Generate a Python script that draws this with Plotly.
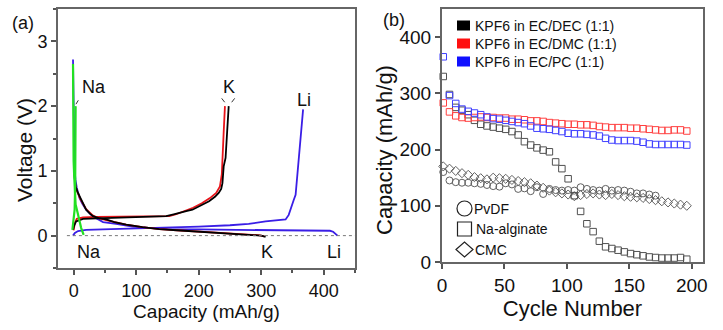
import plotly.graph_objects as go

# ---------------- Panel (a): voltage profiles ----------------
k_dec_dis_cap = [1, 2, 3.2, 6, 9.5, 14, 20, 26, 31, 40, 52, 65, 84, 110, 137, 165, 190, 215, 243, 265, 286, 300, 307]
k_dec_dis_v = [0.95, 0.85, 0.76, 0.68, 0.61, 0.5, 0.40, 0.34, 0.30, 0.27, 0.25, 0.21, 0.17, 0.13, 0.10, 0.083, 0.067, 0.055, 0.04, 0.03, 0.015, 0.0, -0.02]
k_dec_chg_cap = [-1, 1, 4, 15, 50, 94, 130, 148, 160, 170, 180, 190, 203, 216.6, 226, 232, 236, 238, 240, 243, 245.5, 248]
k_dec_chg_v = [0.09, 0.16, 0.22, 0.26, 0.27, 0.28, 0.285, 0.30, 0.33, 0.36, 0.38, 0.40, 0.46, 0.53, 0.60, 0.66, 0.72, 0.81, 1.07, 1.2, 1.6, 2.0]

k_dmc_dis_cap = [2, 5, 10, 20, 31, 40, 52, 65, 84, 110, 137, 165, 190, 215, 243, 265, 286, 298, 305]
k_dmc_dis_v = [0.8, 0.7, 0.58, 0.41, 0.31, 0.27, 0.24, 0.21, 0.17, 0.13, 0.10, 0.083, 0.067, 0.055, 0.04, 0.03, 0.015, 0.005, -0.01]
k_dmc_chg_cap = [0, 2, 5, 15, 36, 80, 120, 145, 153, 164, 178, 191, 205, 218, 228, 234, 237, 238.5, 240, 242]
k_dmc_chg_v = [0.08, 0.2, 0.26, 0.28, 0.29, 0.29, 0.29, 0.29, 0.30, 0.33, 0.38, 0.43, 0.50, 0.58, 0.66, 0.76, 0.95, 1.2, 1.6, 2.0]

li_dis_cap = [-1, -0.5, 0, 0.5, 1.6, 3, 5, 9.5, 14, 20, 28, 36, 47, 68, 94, 120, 150, 200, 250, 300, 350, 400, 410, 415, 419, 422]
li_dis_v = [2.72, 2.2, 1.8, 1.3, 1.0, 0.86, 0.74, 0.58, 0.49, 0.40, 0.32, 0.27, 0.21, 0.18, 0.14, 0.12, 0.10, 0.095, 0.09, 0.088, 0.085, 0.08, 0.075, 0.06, 0.03, 0.0]
li_chg_cap = [-1, 2, 7, 20, 60, 100, 148, 200, 250, 280, 307, 325, 339, 344, 349, 352, 355, 357, 359, 360, 363, 367]
li_chg_v = [0.0, 0.04, 0.07, 0.09, 0.10, 0.11, 0.12, 0.14, 0.16, 0.18, 0.22, 0.24, 0.25, 0.32, 0.48, 0.55, 0.63, 0.84, 1.0, 1.1, 1.5, 1.95]

na_dis_cap = [-1, -0.8, -0.5, 0, 1, 2, 3.2, 6, 9, 12, 16]
na_dis_v = [2.65, 2.2, 1.6, 1.15, 0.9, 0.65, 0.48, 0.37, 0.24, 0.12, 0.01]
na_chg_cap = [-2, -1, 0, 1.6, 2.5, 3.0, 3.2]
na_chg_v = [0.09, 0.2, 0.3, 0.40, 0.8, 1.4, 2.0]

# ---------------- Panel (b): cycling ----------------
cycles = [1, 6, 11, 16, 21, 26, 31, 36, 41, 46, 51, 56, 61, 66, 71, 76, 81, 86, 91, 96,
          101, 106, 111, 116, 121, 126, 131, 136, 141, 146, 151, 156, 161, 166, 171, 176, 181, 186, 191, 196]
cap_dmc = [283, 267, 260, 257, 256, 257, 258, 257, 257, 256, 256, 254, 254, 253, 251, 251, 250, 248, 247, 246,
           245, 245, 244, 244, 243, 241, 240, 239, 239, 239, 238, 238, 237, 236, 235, 234, 234, 235, 235, 233]
cap_pc = [365, 296, 282, 272, 268, 265, 262, 258, 255, 254, 252, 250, 248, 246, 242, 238, 237, 236, 234, 232,
          229, 228, 228, 227, 226, 224, 220, 217, 216, 216, 216, 215, 213, 210, 209, 209, 209, 209, 209, 208]
cap_alginate = [330, 298, 275, 270, 262, 252, 245, 242, 240, 238, 236, 232, 226, 214, 208, 203, 199, 196, 178, 166,
                148, 118, 90, 68, 54, 37, 27, 24, 21, 18, 15, 13, 11, 9, 8, 7, 7, 7, 8, 5]
cycles_pvdf = [1, 6, 11, 16, 21, 26, 31, 36, 41, 46, 51, 56, 61, 66, 71, 76, 81, 86, 91, 96,
               101, 106, 111, 116, 121, 126, 131, 136, 141, 146, 151, 156, 161, 166, 171]
cap_pvdf = [160, 145, 142, 141, 141, 140, 139, 137, 135, 134, 140, 138, 130, 131, 126, 133, 121, 130, 128, 127,
            128, 127, 133, 130, 128, 127, 130, 127, 128, 127, 125, 122, 122, 120, 118]
cap_cmc = [170, 166, 162, 158, 155, 151, 149, 147, 150, 149, 148, 146, 144, 142, 140, 136, 132, 127, 124, 122,
           120, 117, 119, 121, 122, 120, 119, 121, 119, 117, 116, 115, 114, 112, 110, 108, 106, 104, 102, 100]

legend_top = ["KPF6 in EC/DEC (1:1)", "KPF6 in EC/DMC (1:1)", "KPF6 in EC/PC (1:1)"]
legend_top_colors = ["#000000", "#ff1010", "#1010ff"]
legend_bottom = ["PvDF", "Na-alginate", "CMC"]

FONT = "Arial, Liberation Sans, sans-serif"
RED = "#e8141a"
BLACK = "#000000"
BLUE = "#3a1ee6"
GREEN = "#22e022"

fig = go.Figure()

def line(x, y, color, width=1.8):
    fig.add_trace(go.Scatter(x=x, y=y, mode="lines", line=dict(color=color, width=width),
                             showlegend=False, xaxis="x", yaxis="y", hoverinfo="skip"))

line(li_dis_cap, li_dis_v, BLUE)
line(li_chg_cap, li_chg_v, BLUE)
line(k_dmc_dis_cap, k_dmc_dis_v, RED)
line(k_dmc_chg_cap, k_dmc_chg_v, RED)
line(k_dec_dis_cap, k_dec_dis_v, BLACK)
line(k_dec_chg_cap, k_dec_chg_v, BLACK)
line(na_dis_cap, na_dis_v, GREEN, 2.2)
line(na_chg_cap, na_chg_v, GREEN, 2.2)

def pts(x, y, symbol, color, size):
    fig.add_trace(go.Scatter(x=x, y=y, mode="markers",
                             marker=dict(symbol=symbol, size=size, color=color,
                                         line=dict(color=color, width=1)),
                             showlegend=False, xaxis="x2", yaxis="y2", cliponaxis=False))

pts(cycles_pvdf, cap_pvdf, "circle-open", "#606060", 7)
pts(cycles, cap_cmc, "diamond-open", "#606060", 7)
pts(cycles, cap_alginate, "square-open", "#505050", 6.5)
pts(cycles, cap_dmc, "square-open", "#ff4040", 6.5)
pts(cycles, cap_pc, "square-open", "#4040ff", 6.5)

W, H = 723, 330
def px(x):
    return x / W
def py(y):
    return 1 - y / H

axis_common = dict(showgrid=False, zeroline=False, showline=True, mirror=True, automargin=False,
                   ticks="outside", ticklen=5, tickwidth=1.5, tickcolor="#555",
                   linecolor="#666", linewidth=2)

fig.update_layout(
    width=W, height=H, margin=dict(l=0, r=0, t=0, b=0, autoexpand=False),
    paper_bgcolor="white", plot_bgcolor="white",
    font=dict(family=FONT, color="#111"),
    xaxis=dict(domain=[px(58), px(355)], range=[-25, 450], tickvals=[0, 100, 200, 300, 400],
               minor=dict(dtick=50, ticks="outside", ticklen=3, tickcolor="#555"),
               title=dict(text="Capacity (mAh/g)", font=dict(family=FONT, size=19), standoff=2),
               tickfont=dict(family=FONT, size=18, color="#111"),
               anchor="y", **axis_common),
    yaxis=dict(domain=[py(268), py(9)], range=[-0.5, 3.5], tickvals=[0, 1, 2, 3],
               minor=dict(dtick=0.5, ticks="outside", ticklen=3, tickcolor="#555"),
               tickfont=dict(family=FONT, size=18, color="#111"),
               anchor="x", **axis_common),
    xaxis2=dict(domain=[px(442), px(703)], range=[0, 209], tickvals=[0, 50, 100, 150, 200],
                title=dict(text="Cycle Number", font=dict(family=FONT, size=22), standoff=3),
                tickfont=dict(family=FONT, size=19, color="#111"),
                anchor="y2", **axis_common),
    yaxis2=dict(domain=[py(262), py(9)], range=[0, 450], tickvals=[0, 100, 200, 300, 400],
                tickfont=dict(family=FONT, size=19, color="#111"),
                anchor="x2", **axis_common),
)

shapes = []
shapes.append(dict(type="line", xref="x domain", yref="y", x0=0.03, x1=1, y0=0, y1=0,
                   line=dict(color="#777", width=1, dash="dot")))
for (x0, y0, x1, y1) in [(3.7, 2.03, 7.5, 2.09), (236.8, 2.12, 241.6, 2.06), (257.6, 2.12, 252.8, 2.06)]:
    shapes.append(dict(type="line", xref="x", yref="y", x0=x0, y0=y0, x1=x1, y1=y1,
                       line=dict(color="#333", width=1)))

annotations = []
def ann(text, x, y, size, xref="paper", yref="paper", xanchor="center", color="#111", angle=0):
    annotations.append(dict(text=text, x=x, y=y, xref=xref, yref=yref, showarrow=False,
                            xanchor=xanchor, yanchor="middle", textangle=angle,
                            font=dict(family=FONT, size=size, color=color)))

# y-axis titles
ann("Voltage (V)", px(24), py(150), 21, angle=-90)
ann("Capacity (mAh/g)", px(384), py(150), 22, angle=-90)

ann("(a)", px(23), py(23), 18)
ann("(b)", px(394), py(20), 18)
ann("Na", 32, 2.29, 18, "x", "y")
ann("K", 248, 2.30, 18, "x", "y")
ann("Li", 368, 2.10, 18, "x", "y")
ann("Na", 24, -0.25, 18, "x", "y")
ann("K", 309, -0.25, 18, "x", "y")
ann("Li", 416, -0.25, 18, "x", "y")

for i, (lab, col) in enumerate(zip(legend_top, legend_top_colors)):
    yc = 25.5 + 18 * i
    shapes.append(dict(type="rect", xref="paper", yref="paper", x0=px(457), x1=px(470),
                       y0=py(yc + 5), y1=py(yc - 5), fillcolor=col, line=dict(width=0)))
    ann(lab, px(473), py(yc), 14, xanchor="left")

GR = "#222"
shapes.append(dict(type="circle", xref="paper", yref="paper", x0=px(457), x1=px(472),
                   y0=py(216), y1=py(201), line=dict(color=GR, width=1.2)))
shapes.append(dict(type="rect", xref="paper", yref="paper", x0=px(457.5), x1=px(471.5),
                   y0=py(236), y1=py(222), line=dict(color=GR, width=1.2)))
dx0, dx1, dxc = px(456), px(473), px(464.5)
dy0, dy1, dyc = py(257), py(242), py(249.5)
shapes.append(dict(type="path", xref="paper", yref="paper",
                   path=f"M {dx0} {dyc} L {dxc} {dy1} L {dx1} {dyc} L {dxc} {dy0} Z",
                   line=dict(color=GR, width=1.2)))
for lab, xs, yc in zip(legend_bottom, [472, 474, 473], [208.5, 229, 249.5]):
    ann(lab, px(xs), py(yc), 14, xanchor="left")

fig.update_layout(shapes=shapes, annotations=annotations)
fig.write_html("out.html")
